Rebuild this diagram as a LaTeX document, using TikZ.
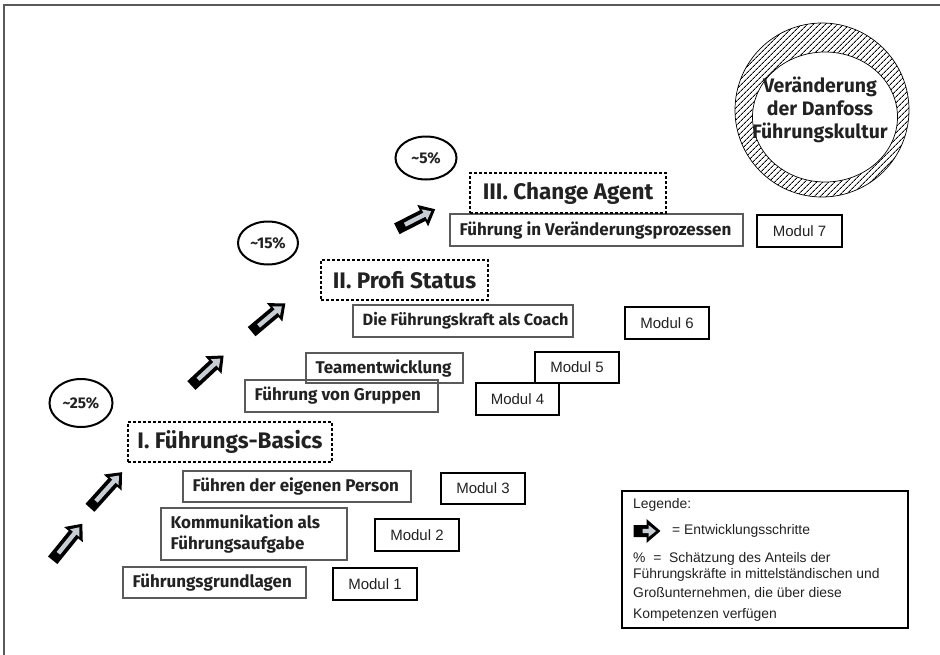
\documentclass[tikz,border=0pt]{standalone}
\usepackage{fontspec}
\setmainfont{Fira Sans}
\newfontfamily\arialfont{Liberation Sans}
\usetikzlibrary{patterns.meta,shapes.geometric}
\definecolor{boxgray}{HTML}{5A5A5A}
\definecolor{arrowgray}{HTML}{C8CED3}
\definecolor{txt}{HTML}{222222}
\newcommand\devarrow[4]{%
\begin{scope}[shift={(#1,#2)},rotate=#3]
\fill[black] ({-#4/2},-6) -- ({#4/2-14},-6) -- ({#4/2-14},-12) -- ({#4/2},0) -- ({#4/2-14},12) -- ({#4/2-14},6) -- ({-#4/2},6) -- cycle;
\fill[arrowgray] ({-#4/2+9},-2.2) -- ({#4/2-12},-2.2) -- ({#4/2-12},-6) -- ({#4/2-4.5},0) -- ({#4/2-12},6) -- ({#4/2-12},2.2) -- ({-#4/2+9},2.2) -- cycle;
\end{scope}}
\begin{document}
\begin{tikzpicture}[x=1pt,y=-1pt,
  txtbox/.style={draw=boxgray, line width=1.1pt, inner sep=0pt},
  boxlabel/.style={anchor=west, inner sep=0pt, align=left, font=\fontsize{17}{20}\selectfont\bfseries, text=txt},
  modbox/.style={draw=black, line width=2.6pt, inner sep=0pt, font=\arialfont\fontsize{15}{18}\selectfont, text=txt},
  phasebox/.style={draw=black, line width=2.6pt, dash pattern=on 2.6pt off 2.4pt, inner sep=0pt, font=\fontsize{22.5}{25}\selectfont\bfseries, text=txt},
  pct/.style={ellipse, draw=black, line width=2pt, inner sep=0pt, font=\fontsize{15.5}{18}\selectfont\bfseries, text=txt},
  legtext/.style={anchor=west, inner sep=0pt, font=\arialfont\fontsize{13.9}{16}\selectfont, text=txt}]
\useasboundingbox (0,0) rectangle (940,654);
\fill[white] (0,0) rectangle (940,654);
\draw[boxgray, line width=1.5pt] (4,660) -- (4,5) -- (945,5);

% ring
\fill[pattern={Lines[angle=45,distance=4pt,line width=0.9pt]}] (822,110) circle[radius=87];
\draw[line width=0.7pt] (822,110) circle[radius=87];
\node[ellipse, fill=white, draw, line width=0.7pt, minimum width=145, minimum height=130] (inner) at (825,117) {};
\node[font=\fontsize{19.5}{23}\selectfont\bfseries, align=center, text=txt] (culture) at (820,110) {Veränderung\\der Danfoss\\Führungskultur};

% level I
\node[txtbox, minimum width=183, minimum height=31] (grund) at (214.5,582.5) {};
\node[boxlabel] (grundt) at ([xshift=10pt]grund.west) {Führungsgrundlagen};
\node[modbox, minimum width=84, minimum height=32] (m1) at (375,584) {Modul 1};
\node[txtbox, minimum width=186, minimum height=52] (komm) at (254,534) {};
\node[boxlabel, font=\fontsize{17}{20.5}\selectfont\bfseries] (kommt) at ([xshift=10pt]komm.west) {Kommunikation als\\Führungsaufgabe};
\node[modbox, minimum width=84, minimum height=32] (m2) at (417,535) {Modul 2};
\node[txtbox, minimum width=228, minimum height=31] (person) at (297,486.5) {};
\node[boxlabel] (persont) at ([xshift=10pt]person.west) {Führen der eigenen Person};
\node[modbox, minimum width=84, minimum height=31] (m3) at (483,488.5) {Modul 3};
\node[phasebox, minimum width=204, minimum height=40] (p1) at (230,442) {I. Führungs-Basics};
\node[pct, minimum width=63, minimum height=48] (e25) at (81,403) {\textasciitilde25\%};

% level II
\node[txtbox, minimum width=193, minimum height=32] (grp) at (341.5,396) {};
\node[boxlabel] (grpt) at ([xshift=10pt]grp.west) {Führung von Gruppen};
\node[modbox, minimum width=83, minimum height=32] (m4) at (517.5,399) {Modul 4};
\node[txtbox, minimum width=157, minimum height=30] (team) at (384.5,368) {};
\node[boxlabel] (teamt) at ([xshift=10pt]team.west) {Teamentwicklung};
\node[modbox, minimum width=84, minimum height=31] (m5) at (577,367.5) {Modul 5};
\node[txtbox, minimum width=220, minimum height=32] (coach) at (463,321) {};
\node[boxlabel, font=\fontsize{16.3}{20}\selectfont\bfseries] (coacht) at ([xshift=10pt]coach.west) {Die Führungskraft als Coach};
\node[modbox, minimum width=84, minimum height=32] (m6) at (667,323) {Modul 6};
\node[phasebox, minimum width=167, minimum height=40] (p2) at (404.5,280) {II. Profi Status};
\node[pct, minimum width=60, minimum height=43] (e15) at (268,243) {\textasciitilde15\%};

% level III
\node[txtbox, minimum width=293, minimum height=32] (ver) at (596.5,230) {};
\node[boxlabel] (vert) at ([xshift=10pt]ver.west) {Führung in Veränderungsprozessen};
\node[modbox, minimum width=85, minimum height=32] (m7) at (799.5,231) {Modul 7};
\node[phasebox, minimum width=196, minimum height=40] (p3) at (568,193) {III. Change Agent};
\node[pct, minimum width=61, minimum height=43] (e5) at (426,158) {\textasciitilde5\%};

% development arrows
\devarrow{67.5}{542}{51}{47}
\devarrow{106}{490}{48}{48}
\devarrow{207.5}{370.5}{43}{44}
\devarrow{268.5}{317.5}{40}{44}
\devarrow{416}{219}{27}{43}

% legend
\node[draw=black, line width=2.5pt, minimum width=286, minimum height=137, inner sep=0pt] (legend) at (765,559.5) {};
\node[legtext] (l0) at (633,505) {Legende:};
\devarrow{647}{531}{0}{27}
\node[legtext] (l1) at (672,531) {= Entwicklungsschritte};
\node[legtext] (l2) at (633,559) {\%~~=~~Schätzung des Anteils der};
\node[legtext] (l3) at (633,575) {Führungskräfte in mittelständischen und};
\node[legtext] (l4) at (633,593) {Großunternehmen, die über diese};
\node[legtext] (l5) at (633,615) {Kompetenzen verfügen};
\end{tikzpicture}
\end{document}
